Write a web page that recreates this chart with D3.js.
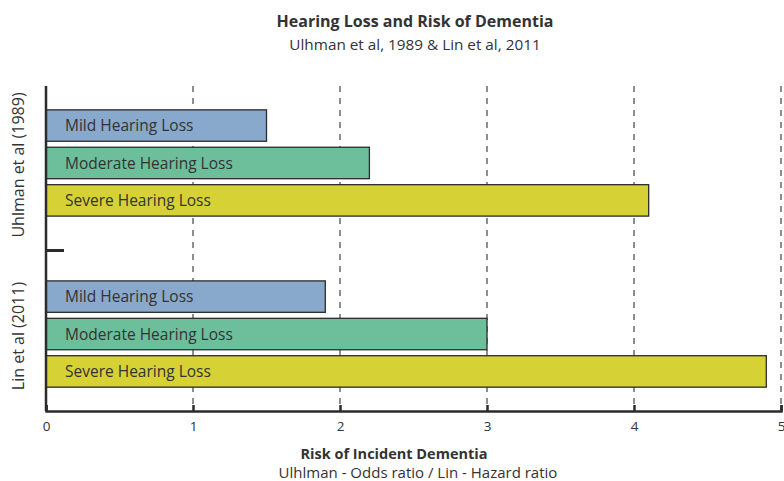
<!DOCTYPE html>
<html>
<head>
<meta charset="utf-8">
<script src="https://cdn.jsdelivr.net/npm/d3@7"></script>
<style>
  body { margin: 0; background: #fff; }
  svg text { font-family: "Open Sans", "Noto Sans", sans-serif; fill: #333; }
</style>
</head>
<body>
<div id="chart"></div>
<script>
// data
const studies = ['Uhlman et al (1989)', 'Lin et al (2011)']
const levels = ['Mild Hearing Loss', 'Moderate Hearing Loss', 'Severe Hearing Loss']
const uhlmanValues = [1.5, 2.2, 4.1]
const linValues = [1.9, 3.0, 4.9]
const xTicks = [0, 1, 2, 3, 4, 5]
const levelColors = ['#88a8cc', '#6dbe9b', '#d6d235']

const rows = []
studies.forEach((s, i) => {
  const vals = i === 0 ? uhlmanValues : linValues
  levels.forEach((l, j) => rows.push({ study: s, level: l, value: vals[j] }))
})

const W = 784, H = 481
const margin = { top: 86, right: 2, bottom: 70, left: 46 }
const width = W - margin.left - margin.right
const height = H - margin.top - margin.bottom

const $svg = d3.select('#chart').append('svg')
  .attr('width', W)
  .attr('height', H)

const $g = $svg.append('g')
  .attr('transform', `translate(${margin.left}, ${margin.top})`)

// scales
const x = d3.scaleLinear().domain([0, 5]).range([0, 735])

const yGroup = d3.scaleBand()
  .domain(studies)
  .range([0, height])
  .paddingInner(0.3)
  .paddingOuter(0.1)

const yRow = d3.scaleBand()
  .domain(levels)
  .range([0, yGroup.bandwidth()])
  .paddingInner(0.16)
  .paddingOuter(0.18)

const color = d3.scaleOrdinal().domain(levels).range(levelColors)

// dashed grid lines
$g.append('g')
  .selectAll('line')
  .data(xTicks.slice(1))
  .join('line')
  .attr('x1', d => x(d))
  .attr('x2', d => x(d))
  .attr('y1', 0)
  .attr('y2', height)
  .attr('stroke', '#444')
  .attr('stroke-width', 1.2)
  .attr('stroke-dasharray', '6,6')

// bars
const $bars = $g.append('g')
  .selectAll('g')
  .data(rows)
  .join('g')
  .attr('transform', d => `translate(0, ${yGroup(d.study) + yRow(d.level)})`)

$bars.append('rect')
  .attr('x', 0)
  .attr('y', 0)
  .attr('width', d => x(d.value))
  .attr('height', yRow.bandwidth())
  .attr('fill', d => color(d.level))
  .attr('stroke', '#2b2b2b')
  .attr('stroke-width', 1.3)

$bars.append('text')
  .attr('x', 19)
  .attr('y', yRow.bandwidth() / 2)
  .attr('dy', '0.36em')
  .attr('font-size', 15.5)
  .text(d => d.level)

// x axis
const xAxis = d3.axisBottom(x)
  .tickValues(xTicks)
  .tickFormat(d3.format('d'))
  .tickSize(-6)
  .tickPadding(10)

const $xAxis = $g.append('g')
  .attr('transform', `translate(0, ${height})`)
  .call(xAxis)

$xAxis.select('.domain').attr('stroke', '#2b2b2b').attr('stroke-width', 2.5)
$xAxis.selectAll('.tick line').attr('stroke', '#2b2b2b').attr('stroke-width', 2.5)
$xAxis.selectAll('.tick text')
  .attr('font-size', 13.5)
  .attr('font-family', '"Open Sans", sans-serif')
  .attr('fill', '#444')

// y axis line
$g.append('line')
  .attr('x1', 0).attr('x2', 0)
  .attr('y1', 0).attr('y2', height)
  .attr('stroke', '#2b2b2b')
  .attr('stroke-width', 2.5)

// group separator tick
const sepY = (yGroup(studies[0]) + yGroup.bandwidth() + yGroup(studies[1])) / 2 + 2
$g.append('line')
  .attr('x1', 0).attr('x2', 18)
  .attr('y1', sepY).attr('y2', sepY)
  .attr('stroke', '#2b2b2b')
  .attr('stroke-width', 3)

// group labels
$g.append('g')
  .selectAll('text')
  .data(studies)
  .join('text')
  .attr('transform', d => `translate(-22, ${yGroup(d) + yGroup.bandwidth() / 2 + 2}) rotate(-90)`)
  .attr('text-anchor', 'middle')
  .attr('font-size', 16)
  .text(d => d)

// titles
$svg.append('text')
  .attr('x', 415).attr('y', 27)
  .attr('text-anchor', 'middle')
  .attr('font-size', 16)
  .attr('font-weight', 'bold')
  .text('Hearing Loss and Risk of Dementia')

$svg.append('text')
  .attr('x', 415).attr('y', 50)
  .attr('text-anchor', 'middle')
  .attr('font-size', 15.3)
  .text('Ulhman et al, 1989 & Lin et al, 2011')

$svg.append('text')
  .attr('x', 394).attr('y', 459)
  .attr('text-anchor', 'middle')
  .attr('font-size', 14.5)
  .attr('font-weight', 'bold')
  .text('Risk of Incident Dementia')

$svg.append('text')
  .attr('x', 418).attr('y', 478)
  .attr('text-anchor', 'middle')
  .attr('font-size', 15)
  .text('Ulhlman - Odds ratio / Lin - Hazard ratio')
</script>
</body>
</html>
